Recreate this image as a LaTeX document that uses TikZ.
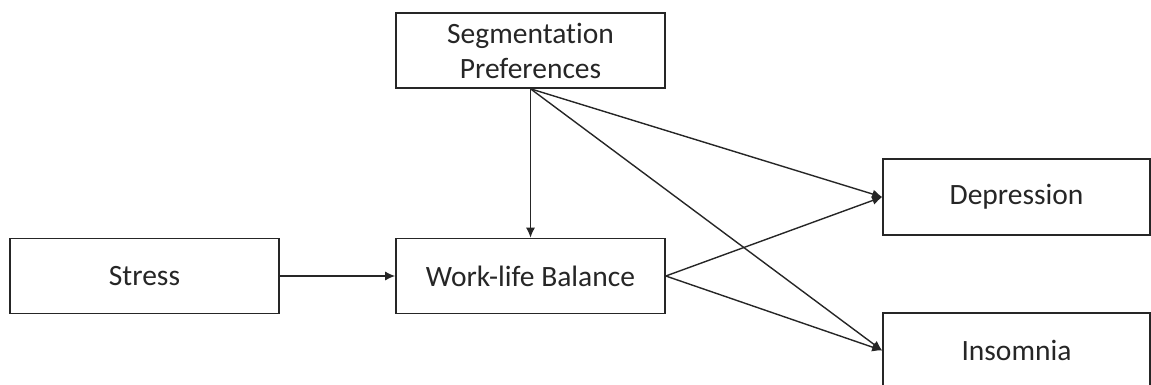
\documentclass[tikz,border=0pt]{standalone}
\usepackage{fontspec}
\setmainfont{Carlito}[Ligatures={NoCommon}]
\usetikzlibrary{arrows.meta}
\begin{document}
\begin{tikzpicture}[x=1pt,y=-1pt,
  box/.style={draw=black!85,line width=1.6pt,fill=white,inner sep=0pt,
    minimum width=269pt,minimum height=75pt,align=center,text=black!85,
    font=\fontsize{29.5}{35}\selectfont},
  link/.style={draw=black!85,line width=1.4pt,-{Latex[length=10pt,width=9pt]}}]
  \useasboundingbox (0,0) rectangle (1151,385);
  \clip (0,0) rectangle (1151,385);
  % boxes
  \node[box] (seg) at (530.5,50.5) {Segmentation\\Preferences};
  \node[box] (stress) at (144.5,276) {Stress};
  \node[box] (wlb) at (530.5,276) {Work-life Balance};
  \node[box,minimum width=267pt,minimum height=76pt] (dep) at (1016.5,197) {Depression};
  \node[box,minimum width=267pt] (ins) at (1016.5,350.5) {Insomnia};
  % connectors
  \draw[link] (stress.east) -- (wlb.west);
  \draw[link] (seg.south) -- (wlb.north);
  \draw[link] (seg.south) -- (dep.west);
  \draw[link] (seg.south) -- (ins.west);
  \draw[link] (wlb.east) -- (dep.west);
  \draw[link] (wlb.east) -- (ins.west);
\end{tikzpicture}
\end{document}
